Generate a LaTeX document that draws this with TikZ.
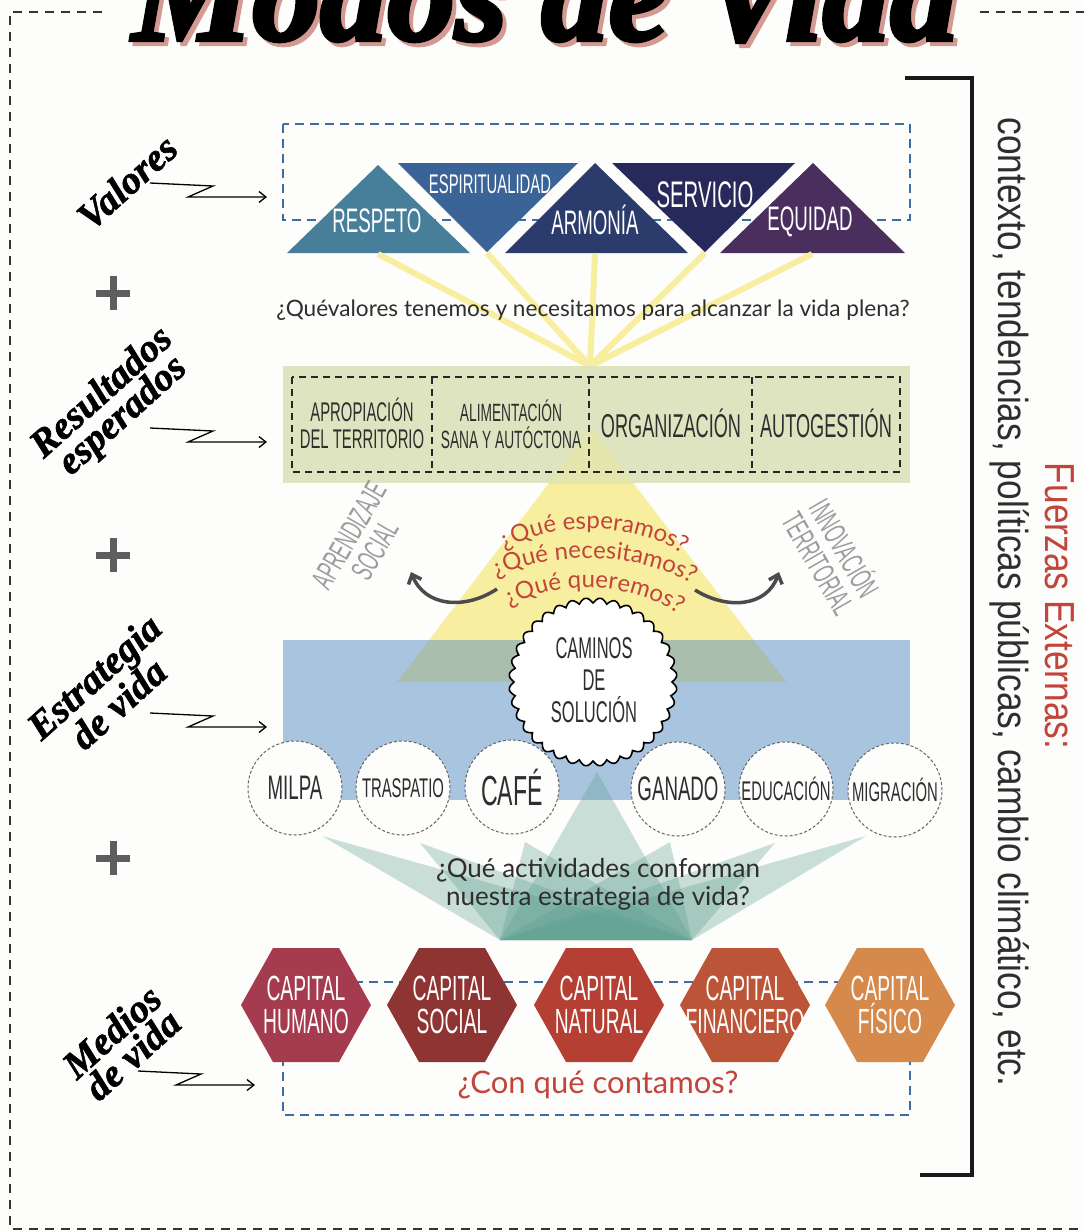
\documentclass[tikz,border=0pt]{standalone}
\usepackage{fontspec}
\setmainfont{Lato}
\newfontfamily\handf[FakeStretch=0.55]{Liberation Sans}
\newfontfamily\condf[FakeStretch=0.84]{Liberation Sans}
\newfontfamily\scriptf[FakeBold=1.5]{Liberation Serif}
\newfontfamily\titlef[FakeBold=3]{Liberation Serif}
\newfontfamily\qf{Lato}
\usetikzlibrary{decorations.text,calc,arrows.meta}
\definecolor{bgc}{HTML}{FDFDFB}
\definecolor{triA}{HTML}{477F9B}
\definecolor{triB}{HTML}{3A6498}
\definecolor{triC}{HTML}{2B3B6C}
\definecolor{triD}{HTML}{262959}
\definecolor{triE}{HTML}{4A2E5E}
\definecolor{bdash}{HTML}{3E6CA6}
\definecolor{greenbox}{HTML}{DFE4C0}
\definecolor{greenyel}{HTML}{E5E6AD}
\definecolor{yel}{HTML}{F7EF9F}
\definecolor{bluebox}{HTML}{A9C4DF}
\definecolor{blueyel}{HTML}{AABEAE}
\definecolor{teal}{HTML}{5E9F8F}
\definecolor{hexA}{HTML}{A53B4E}
\definecolor{hexB}{HTML}{8E3432}
\definecolor{hexC}{HTML}{B53F33}
\definecolor{hexD}{HTML}{BC5538}
\definecolor{hexE}{HTML}{D5894A}
\definecolor{qred}{HTML}{C1453B}
\definecolor{lgray}{HTML}{9C9C9C}
\definecolor{pgray}{HTML}{5E5E5E}
\definecolor{tpink}{HTML}{D49A92}
\definecolor{txt}{HTML}{2E2E2E}
\tikzset{
  tritext/.style={text=white, font=\handf\fontsize{34}{36}\selectfont, inner sep=0pt},
  restext/.style={text=txt, font=\handf\fontsize{27}{27}\selectfont, align=center, inner sep=0pt},
  acttext/.style={text=txt, font=\handf\fontsize{34}{36}\selectfont, inner sep=0pt},
  hextext/.style={text=white, font=\handf\fontsize{35}{33}\selectfont, align=center, inner sep=0pt},
  actcirc/.style={circle, minimum size=94pt, fill=bgc, draw=gray!80!black, dash pattern=on 3pt off 2pt, line width=1pt},
  graylab/.style={text=lgray, font=\handf\fontsize{31}{30}\selectfont, align=center, inner sep=0pt},
  sidelab/.style={text=black, font=\scriptf\bfseries\itshape\fontsize{39}{31}\selectfont, align=center, rotate=42, inner sep=0pt},
  zz/.style={line width=1.3pt, -{Straight Barb[length=7pt,width=11pt]}},
  plusmark/.style={line width=7pt, pgray},
  bluedash/.style={bdash, line width=2.6pt, dash pattern=on 9pt off 6pt},
  blackdash/.style={black!85, line width=2.2pt, dash pattern=on 7pt off 5pt},
  curvarrow/.style={line width=3.5pt, pgray!80!black, -{Straight Barb[length=8pt,width=14pt]}}
}
\newcommand{\hexa}[5]{%
  \fill[#4] (#2-65,#3) -- (#2-33,#3-57) -- (#2+33,#3-57) -- (#2+65,#3) -- (#2+33,#3+57) -- (#2-33,#3+57) -- cycle;
  \node[hextext] (#1) at (#2,#3) {#5};}
\begin{document}
\begin{tikzpicture}[x=1pt,y=-1pt]
\useasboundingbox (0,0) rectangle (1084,1232);
\fill[bgc] (0,0) rectangle (1084,1232);
% outer dashed frame
\draw[black!80, line width=1.8pt, dash pattern=on 9pt off 7pt] (102,12) -- (10,12) -- (10,1229) -- (1084,1229);
\draw[black!80, line width=1.8pt, dash pattern=on 9pt off 7pt] (980,12) -- (1084,12);
% title
\node[anchor=base, text=tpink, font=\titlef\bfseries\itshape\fontsize{135}{140}\selectfont, inner sep=0pt] (titlesh) at (549,44) {Modos de Vida};
\node[anchor=base, text=black, font=\titlef\bfseries\itshape\fontsize{135}{140}\selectfont, inner sep=0pt] (title) at (545,40) {Modos de Vida};
% ---------------- Valores
\draw[bluedash] (283,124) rectangle (910,220);
\fill[triA] (287,253) -- (378,165) -- (470,253) -- cycle;
\fill[triB] (398,163) -- (578,163) -- (487,252) -- cycle;
\fill[triC] (505,253) -- (595,163) -- (688,253) -- cycle;
\fill[triD] (612,163) -- (795,163) -- (705,252) -- cycle;
\fill[triE] (720,253) -- (813,163) -- (905,253) -- cycle;
\node[tritext] (respeto) at (377,221) {RESPETO};
\node[tritext, font=\handf\fontsize{27}{28}\selectfont] (espiritualidad) at (490,184) {ESPIRITUALIDAD};
\node[tritext] (armonia) at (595,220) {ARMONÍA};
\node[tritext, font=\handf\fontsize{37}{38}\selectfont] (servicio) at (705,195) {SERVICIO};
\node[tritext] (equidad) at (810,222) {EQUIDAD};
% yellow rays
\coordinate (focus) at (590,366);
\foreach \px/\py in {378/254, 487/253, 595/254, 705/253, 812/254}
  \draw[yel, line width=6pt] (\px,\py) -- (focus);
\node[text=txt, font=\qf\fontsize{22.6}{24}\selectfont, inner sep=0pt] (qval) at (593,310) {¿Quévalores tenemos y necesitamos para alcanzar la vida plena?};
% ---------------- yellow triangle
\fill[yel] (591,428) -- (397,682) -- (786,682) -- cycle;
% ---------------- Resultados
\fill[greenbox] (283,366) rectangle (910,483);
\begin{scope}
  \clip (283,366) rectangle (910,483);
  \fill[greenyel] (591,428) -- (397,682) -- (786,682) -- cycle;
\end{scope}
\draw[blackdash] (292,377) rectangle (900,472);
\foreach \dx in {432,589,752}
  \draw[blackdash] (\dx,377) -- (\dx,472);
\node[restext] (apropiacion) at (362,423) {APROPIACIÓN\\DEL TERRITORIO};
\node[restext, font=\handf\fontsize{25}{27}\selectfont] (alimentacion) at (511,424) {ALIMENTACIÓN\\SANA Y AUTÓCTONA};
\node[restext, font=\handf\fontsize{33}{33}\selectfont] (organizacion) at (671,423) {ORGANIZACIÓN};
\node[restext, font=\handf\fontsize{33}{33}\selectfont] (autogestion) at (826,423) {AUTOGESTIÓN};
% ---------------- Estrategia
\fill[bluebox] (283,640) rectangle (910,800);
\begin{scope}
  \clip (283,640) rectangle (910,800);
  \fill[blueyel] (591,428) -- (397,682) -- (786,682) -- cycle;
\end{scope}
% teal rays
\coordinate (tb1) at (500,940);
\coordinate (tb2) at (692,940);
\foreach \tx/\ty in {322/836, 420/843, 525/842, 597/772, 670/842, 775/843, 866/836}
  \fill[teal, opacity=0.33] (\tx,\ty) -- (tb1) -- (tb2) -- cycle;
% scalloped circle
\fill[white] plot[samples=721, domain=0:360, variable=\t] ({593+(79+5*abs(sin(18*\t)))*cos(\t)}, {682+(79+5*abs(sin(18*\t)))*sin(\t)}) -- cycle;
\draw[black, line width=1.6pt] plot[samples=721, domain=0:360, variable=\t] ({593+(79+5*abs(sin(18*\t)))*cos(\t)}, {682+(79+5*abs(sin(18*\t)))*sin(\t)}) -- cycle;
\node[text=txt, font=\handf\fontsize{30}{32}\selectfont, align=center, inner sep=0pt] (caminos) at (594,680) {CAMINOS\\DE\\SOLUCIÓN};
% red questions along arcs
\path[decorate, decoration={text along path, text align=center, text={|\qf\fontsize{24}{24}\selectfont\color{qred}|¿Qué esperamos?}}] (500,553) .. controls (548,519) and (638,521) .. (688,557);
\path[decorate, decoration={text along path, text align=center, text={|\qf\fontsize{24}{24}\selectfont\color{qred}|¿Qué necesitamos?}}] (490,581) .. controls (545,548) and (645,551) .. (698,588);
\path[decorate, decoration={text along path, text align=center, text={|\qf\fontsize{24}{24}\selectfont\color{qred}|¿Qué queremos?}}] (508,608) .. controls (552,579) and (632,581) .. (680,615);
\coordinate (qleft) at (497,589);
\coordinate (qright) at (695,590);
% gray side labels
\node[graylab, rotate=60] (aprend) at (362,543) {APRENDIZAJE\\SOCIAL};
\node[graylab, rotate=-60] (innov) at (833,555) {INNOVACIÓN\\TERRITORIAL};
\draw[curvarrow] (qleft) .. controls (465,610) and (425,607) .. (411,572);
\draw[curvarrow] (qright) .. controls (727,610) and (767,607) .. (779,572);
% activity circles
\node[actcirc] (milpa) at (295,788) {};
\node[acttext] at (milpa) {MILPA};
\node[actcirc] (traspatio) at (403,788) {};
\node[acttext, font=\handf\fontsize{27}{28}\selectfont] at (traspatio) {TRASPATIO};
\node[actcirc] (cafe) at (512,787) {};
\node[acttext, font=\handf\fontsize{42}{44}\selectfont] at (cafe) {CAFÉ};
\node[actcirc] (ganado) at (678,789) {};
\node[acttext] at (ganado) {GANADO};
\node[actcirc] (educacion) at (786,789) {};
\node[acttext, font=\handf\fontsize{27}{28}\selectfont] at (educacion) {EDUCACIÓN};
\node[actcirc] (migracion) at (895,790) {};
\node[acttext, font=\handf\fontsize{27}{28}\selectfont] at (migracion) {MIGRACIÓN};
\node[text=txt, font=\qf\fontsize{26}{28}\selectfont, align=center, inner sep=0pt] (qact) at (598,884) {¿Qué actividades conforman\\nuestra estrategia de vida?};
% ---------------- Medios
\draw[bluedash] (283,982) rectangle (910,1115);
\hexa{humano}{306}{1005}{hexA}{CAPITAL\\HUMANO}
\hexa{social}{452}{1005}{hexB}{CAPITAL\\SOCIAL}
\hexa{natural}{599}{1005}{hexC}{CAPITAL\\NATURAL}
\hexa{financiero}{745}{1005}{hexD}{CAPITAL\\FINANCIERO}
\hexa{fisico}{890}{1005}{hexE}{CAPITAL\\FÍSICO}
\node[text=qred, font=\qf\fontsize{31}{32}\selectfont, inner sep=0pt] (qcon) at (598,1085) {¿Con qué contamos?};
% ---------------- left labels
\node[sidelab] (lvalores) at (127,182) {Valores};
\node[sidelab] (lresult) at (113,405) {Resultados\\esperados};
\node[sidelab] (lestrat) at (106,690) {Estrategia\\de vida};
\node[sidelab] (lmedios) at (122,1043) {Medios\\de vida};
\coordinate (va) at (150,183); \coordinate (vb) at (267,197);
\coordinate (ra) at (150,428); \coordinate (rb) at (267,442);
\coordinate (ea) at (150,713); \coordinate (eb) at (267,727);
\coordinate (ma) at (138,1071); \coordinate (mb) at (255,1085);
\draw[zz] (va) -- ++(63,3) -- ++(-25,11) -- (vb);
\draw[zz] (ra) -- ++(63,3) -- ++(-25,11) -- (rb);
\draw[zz] (ea) -- ++(63,3) -- ++(-25,11) -- (eb);
\draw[zz] (ma) -- ++(63,3) -- ++(-25,11) -- (mb);
\foreach \py in {293,555,858}
  \draw[plusmark] (96,\py) -- (130,\py) (113,\py-17) -- (113,\py+17);
% ---------------- right bracket and text
\draw[black!90, line width=4pt] (905,78) -- (972,78) -- (972,1175) -- (920,1175);
\node[rotate=-90, text=txt, font=\condf\fontsize{42}{44}\selectfont, inner sep=0pt] (contexto) at (1010,602) {contexto, tendencias, políticas públicas, cambio climático, etc.};
\node[rotate=-90, text=qred, font=\condf\fontsize{42}{44}\selectfont, inner sep=0pt] (fuerzas) at (1060,606) {Fuerzas Externas:};
\end{tikzpicture}
\end{document}
